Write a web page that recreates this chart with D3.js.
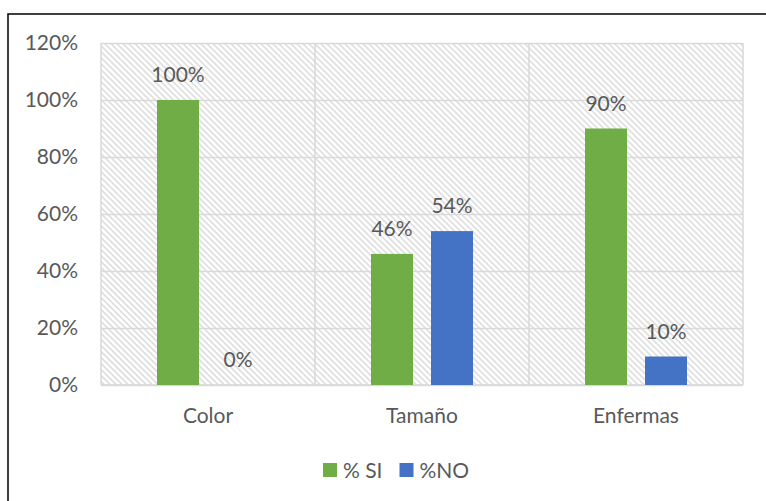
<!DOCTYPE html>
<html>
<head>
<meta charset="utf-8">
<script src="https://cdn.jsdelivr.net/npm/d3@7"></script>
<style>
  html, body { margin: 0; padding: 0; background: #fff; }
  svg { display: block; }
  text { font-family: Lato, "Open Sans", sans-serif; fill: #595959; }
</style>
</head>
<body>
<svg id="chart" width="766" height="501"></svg>
<script>
// Survey results per attribute
const categories = ["Color", "Tamaño", "Enfermas"];
const seriesNames = ["% SI", "%NO"];
const siValues = [100, 46, 90];
const noValues = [0, 54, 10];
const yTicks = [0, 20, 40, 60, 80, 100, 120];
const seriesColors = ["#70AD47", "#4472C4"];

const svg = d3.select("#chart");
const W = 766, H = 501;
const plot = { left: 101, right: 743, top: 43, bottom: 385 };
const fontSize = 21;

// outer frame
svg.append("rect")
  .attr("x", 8).attr("y", 14)
  .attr("width", W + 20).attr("height", H + 20)
  .attr("fill", "#fff")
  .attr("stroke", "#000").attr("stroke-width", 1.5);

// diagonal hatch fill for the plot area
const defs = svg.append("defs");
const pat = defs.append("pattern")
  .attr("id", "hatch")
  .attr("patternUnits", "userSpaceOnUse")
  .attr("width", 4.24).attr("height", 4.24)
  .attr("patternTransform", "rotate(-45)");
pat.append("rect").attr("width", 4.24).attr("height", 4.24).attr("fill", "#fff");
pat.append("line")
  .attr("x1", 1).attr("y1", 0).attr("x2", 1).attr("y2", 4.24)
  .attr("stroke", "#dadada").attr("stroke-width", 1.5);

const x = d3.scaleBand().domain(categories).range([plot.left, plot.right]).padding(0);
const xs = d3.scaleBand().domain(seriesNames).range([0, x.bandwidth()])
  .paddingInner(0.3).paddingOuter(0.933);
const y = d3.scaleLinear().domain([0, 120]).range([plot.bottom, plot.top]);

svg.append("rect")
  .attr("x", plot.left).attr("y", plot.top)
  .attr("width", plot.right - plot.left).attr("height", plot.bottom - plot.top)
  .attr("fill", "url(#hatch)");

// horizontal gridlines + tick labels
const yAxis = svg.append("g")
  .attr("transform", `translate(${plot.left},0)`)
  .call(d3.axisLeft(y).tickValues(yTicks)
    .tickSize(-(plot.right - plot.left)).tickPadding(23)
    .tickFormat(d => d + "%"));
yAxis.select(".domain").remove();
yAxis.selectAll(".tick line").attr("stroke", "#d9d9d9").attr("stroke-width", 1.5);
yAxis.selectAll(".tick text")
  .style("font-size", fontSize + "px")
  .style("font-family", "Lato, 'Open Sans', sans-serif")
  .attr("fill", "#595959");

// vertical category separators and plot border
const sep = categories.map(c => x(c)).concat([plot.right]);
svg.append("g").selectAll("line").data(sep).join("line")
  .attr("x1", d => d).attr("x2", d => d)
  .attr("y1", plot.top).attr("y2", plot.bottom)
  .attr("stroke", "#d9d9d9").attr("stroke-width", 1.5);
svg.append("line")
  .attr("x1", plot.left).attr("x2", plot.right)
  .attr("y1", plot.bottom).attr("y2", plot.bottom)
  .attr("stroke", "#d9d9d9").attr("stroke-width", 1.5);

// bars
const rows = categories.map((c, i) => ({ cat: c, vals: [siValues[i], noValues[i]] }));
const groups = svg.append("g").selectAll("g").data(rows).join("g")
  .attr("transform", d => `translate(${x(d.cat)},0)`);

groups.selectAll("rect")
  .data(d => d.vals.map((v, j) => ({ s: seriesNames[j], v, j })))
  .join("rect")
  .attr("x", d => xs(d.s))
  .attr("width", xs.bandwidth())
  .attr("y", d => y(d.v))
  .attr("height", d => y(0) - y(d.v))
  .attr("fill", d => seriesColors[d.j]);

// value labels
groups.selectAll("text.val")
  .data(d => d.vals.map((v, j) => ({ s: seriesNames[j], v, j })))
  .join("text")
  .attr("class", "val")
  .attr("x", d => xs(d.s) + xs.bandwidth() / 2)
  .attr("y", d => y(d.v) - 18)
  .attr("text-anchor", "middle")
  .style("font-size", fontSize + "px")
  .text(d => d.v + "%");

// category labels
svg.append("g").selectAll("text").data(categories).join("text")
  .attr("x", d => x(d) + x.bandwidth() / 2)
  .attr("y", 423)
  .attr("text-anchor", "middle")
  .style("font-size", fontSize + "px")
  .text(d => d);

// legend
const legendX = [323, 399.5];
const lg = svg.append("g").selectAll("g").data(seriesNames).join("g")
  .attr("transform", (d, i) => `translate(${legendX[i]},463)`);
lg.append("rect").attr("width", 14).attr("height", 14)
  .attr("fill", (d, i) => seriesColors[i]);
lg.append("text").attr("x", 20).attr("y", 14.5)
  .style("font-size", fontSize + "px")
  .text(d => d);
</script>
</body>
</html>
